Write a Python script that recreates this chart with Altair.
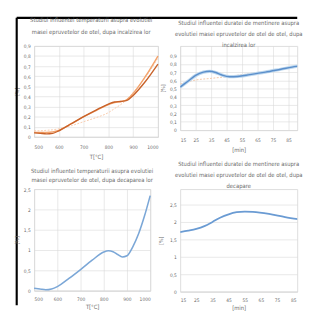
import altair as alt
import pandas as pd

# ---------- data ----------
temp_x = [500, 525, 550, 575, 600, 650, 700, 750, 800, 825, 850, 875, 900, 950, 1000]
heat_a = [0.04, 0.035, 0.03, 0.035, 0.06, 0.13, 0.20, 0.265, 0.325, 0.345, 0.35, 0.36, 0.41, 0.55, 0.72]
heat_b = [0.045, 0.045, 0.045, 0.05, 0.065, 0.13, 0.20, 0.26, 0.32, 0.34, 0.35, 0.37, 0.43, 0.60, 0.80]
heat_trend = [0.06, 0.06, 0.065, 0.07, 0.08, 0.11, 0.15, 0.19, 0.24, 0.28, 0.32, 0.37, 0.44, 0.59, 0.78]

dur_x = [15, 20, 25, 30, 34, 38, 42, 47, 52, 60, 70, 80, 90, 92]
dur_heat = [0.52, 0.59, 0.66, 0.70, 0.71, 0.695, 0.665, 0.645, 0.648, 0.67, 0.70, 0.735, 0.77, 0.775]
dur_trend_x = [15, 20, 25, 35, 45, 55, 65, 75, 85, 92]
dur_trend = [0.555, 0.585, 0.605, 0.625, 0.645, 0.67, 0.695, 0.72, 0.75, 0.77]

pick_x = [500, 525, 550, 575, 600, 650, 700, 750, 800, 820, 840, 860, 880, 900, 925, 950, 975, 1000]
pick_y = [0.06, 0.04, 0.02, 0.04, 0.10, 0.30, 0.52, 0.75, 0.95, 0.98, 0.96, 0.89, 0.83, 0.86, 1.08, 1.40, 1.83, 2.34]

dpick_x = [15, 20, 25, 30, 35, 40, 45, 50, 55, 60, 70, 80, 88]
dpick_y = [1.71, 1.75, 1.80, 1.88, 2.00, 2.13, 2.22, 2.28, 2.30, 2.29, 2.23, 2.14, 2.08]

temp_ticks = [500, 600, 700, 800, 900, 1000]
dur_ticks = [15, 25, 35, 45, 55, 65, 75, 85]
y_ticks_top = [0, 0.1, 0.2, 0.3, 0.4, 0.5, 0.6, 0.7, 0.8, 0.9]
y_ticks_bot = [0, 0.5, 1, 1.5, 2, 2.5]

title_tl = ["Studiul influentei temperaturii asupra evolutiei",
            "masei epruvetelor de otel, dupa incalzirea lor"]
title_tr = ["Studiul influentei duratei de mentinere asupra",
            "evolutiei masei epruvetelor de otel de otel, dupa",
            "incalzirea lor"]
title_bl = ["Studiul influentei temperaturii asupra evolutiei",
            "masei epruvetelor de otel, dupa decaparea lor"]
title_br = ["Studiul influentei duratei de mentinere asupra",
            "evolutiei masei epruvetelor de otel de otel, dupa",
            "decapare"]

# ---------- style ----------
GRID = "#d9d9d9"
TXT = "#6b6b6b"
FONT = "DejaVu Sans Condensed, Liberation Sans, sans-serif"
COMMA = "replace(format(datum.value, '~g'), '.', ',')"


def xaxis(title, values, grid=True, lp=5, tp=3):
    return alt.Axis(title=title, values=values, grid=grid, gridColor=GRID, gridWidth=0.6,
                    domainColor=GRID, domainWidth=0.8, ticks=False, labelOverlap=False,
                    labelExpr="format(datum.value, 'd')",
                    labelFont=FONT, labelFontSize=5, labelColor=TXT, labelPadding=lp,
                    titleFont=FONT, titleFontSize=6, titleFontWeight="normal",
                    titleColor=TXT, titlePadding=tp)


def yaxis(values, tp=4, lp=4):
    return alt.Axis(title="[%]", values=values, grid=True, gridColor=GRID, gridWidth=0.6,
                    domain=False, ticks=False, labelExpr=COMMA, labelOverlap=False,
                    labelFont=FONT, labelFontSize=5, labelColor=TXT, labelPadding=lp,
                    titleFont=FONT, titleFontSize=5.5, titleFontWeight="normal",
                    titleColor=TXT, titlePadding=tp)


def title(lines, offset, dx=0, lh=11.5):
    return alt.TitleParams(text=lines, font=FONT, fontSize=6, fontWeight="normal", color=TXT,
                           lineHeight=lh, offset=offset, frame="group", anchor="middle", dx=dx)


one = pd.DataFrame({"k": [0]})

# ---------- top-left ----------
df_tl = pd.DataFrame({"x": temp_x, "a": heat_a, "b": heat_b, "t": heat_trend})
xs_tl = alt.Scale(domain=[500, 1000], nice=False)
ys_tl = alt.Scale(domain=[0, 0.9], nice=False)
ax_tl = xaxis("T[°C]", temp_ticks, lp=8, tp=4)
ay_tl = yaxis(y_ticks_top)
base_tl = alt.Chart(df_tl)
frame_left = alt.Chart(one).mark_rule(color="black", strokeWidth=2.2).encode(
    x=alt.value(-18), y=alt.value(-29), y2=alt.value(268))
frame_top = alt.Chart(one).mark_rule(color="black", strokeWidth=2.2).encode(
    x=alt.value(-18), x2=alt.value(272), y=alt.value(-29))
tl_trend = base_tl.mark_line(color="#f8cbad", strokeWidth=1, strokeDash=[2, 1.5],
                             interpolate="monotone").encode(
    x=alt.X("x:Q", scale=xs_tl, axis=ax_tl), y=alt.Y("t:Q", scale=ys_tl, axis=ay_tl))
tl_b = base_tl.mark_line(color="#f4a36b", strokeWidth=1.4, interpolate="monotone").encode(
    x=alt.X("x:Q", scale=xs_tl, axis=ax_tl), y=alt.Y("b:Q", scale=ys_tl, axis=ay_tl))
tl_a = base_tl.mark_line(color="#c8622a", strokeWidth=1.4, interpolate="monotone").encode(
    x=alt.X("x:Q", scale=xs_tl, axis=ax_tl), y=alt.Y("a:Q", scale=ys_tl, axis=ay_tl))
p_tl = alt.layer(frame_left, frame_top, tl_trend, tl_b, tl_a).properties(
    width=128, height=94, title=title(title_tl, offset=-19, dx=-5, lh=12.5))

# ---------- top-right ----------
df_tr = pd.DataFrame({"x": dur_x, "y": dur_heat})
df_trt = pd.DataFrame({"x": dur_trend_x, "y": dur_trend})
xs_tr = alt.Scale(domain=[15, 90.6], nice=False)
ys_tr = alt.Scale(domain=[0, 1.017], nice=False)
ax_tr = xaxis("[min]", dur_ticks, lp=8, tp=4)
ay_tr = yaxis(y_ticks_top)
tr_trend = alt.Chart(df_trt).mark_line(color="#f4c7a8", strokeWidth=1, strokeDash=[2, 1.5],
                                       interpolate="monotone", clip=True).encode(
    x=alt.X("x:Q", scale=xs_tr, axis=ax_tr), y=alt.Y("y:Q", scale=ys_tr, axis=ay_tr))
tr_glow = alt.Chart(df_tr).mark_line(color="#bdd7ee", strokeWidth=3.4, interpolate="monotone",
                                     clip=True).encode(
    x=alt.X("x:Q", scale=xs_tr, axis=ax_tr), y=alt.Y("y:Q", scale=ys_tr, axis=ay_tr))
tr_line = alt.Chart(df_tr).mark_line(color="#5b8fcb", strokeWidth=1.5, interpolate="monotone",
                                     clip=True).encode(
    x=alt.X("x:Q", scale=xs_tr, axis=ax_tr), y=alt.Y("y:Q", scale=ys_tr, axis=ay_tr))
p_tr = alt.layer(tr_trend, tr_glow, tr_line).properties(
    width=121, height=87, title=title(title_tr, offset=-2))

# ---------- bottom-left ----------
df_bl = pd.DataFrame({"x": pick_x, "y": pick_y})
p_bl = alt.Chart(df_bl).mark_line(color="#7ba7d7", strokeWidth=1.6, interpolate="monotone").encode(
    x=alt.X("x:Q", scale=alt.Scale(domain=[500, 1000], nice=False),
            axis=xaxis("T[°C]", temp_ticks, lp=6, tp=2)),
    y=alt.Y("y:Q", scale=alt.Scale(domain=[0, 2.5], nice=False), axis=yaxis(y_ticks_bot))
).properties(width=120, height=105, title=title(title_bl, offset=4, lh=10))

# ---------- bottom-right ----------
df_br = pd.DataFrame({"x": dpick_x, "y": dpick_y})
p_br = alt.Chart(df_br).mark_line(color="#6a9bd3", strokeWidth=1.8, interpolate="monotone",
                                  clip=True).encode(
    x=alt.X("x:Q", scale=alt.Scale(domain=[15, 87.5], nice=False),
            axis=xaxis("[min]", dur_ticks, grid=False, lp=6, tp=2)),
    y=alt.Y("y:Q", scale=alt.Scale(domain=[0, 2.944], nice=False), axis=yaxis(y_ticks_bot, tp=6))
).properties(width=121, height=106, title=title(title_br, offset=0))

chart = alt.concat(p_tl, p_tr, p_bl, p_br, columns=2, spacing={"row": 54, "column": 23},
                   bounds="flush", align="each").properties(
    padding={"left": 6, "top": 3, "right": 0, "bottom": 0}
).configure_view(stroke=None).configure_axis(labelOverlap=False).configure(background="white")

chart.save("out.html", embed_options={"renderer": "svg", "actions": False})
